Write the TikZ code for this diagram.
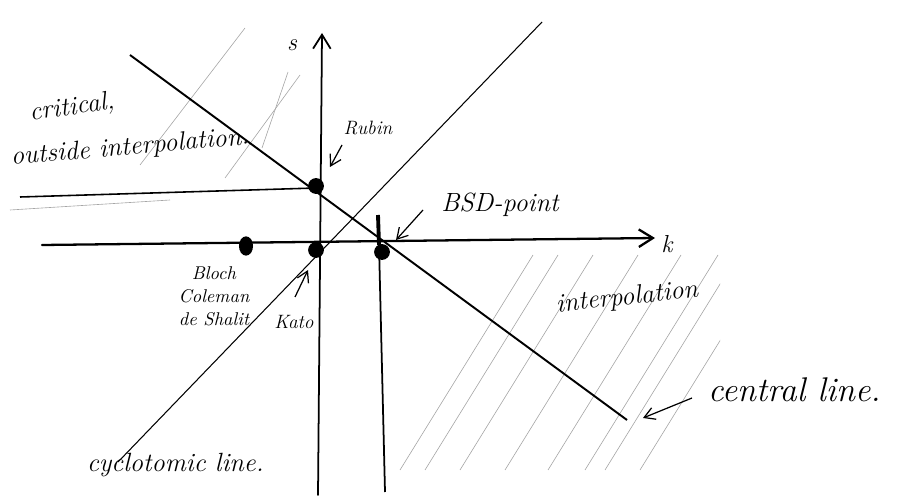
\documentclass[tikz,border=0pt]{standalone}
\usetikzlibrary{arrows.meta,shapes.geometric}
\begin{document}
\begin{tikzpicture}[x=0.02cm,y=-0.02cm,
  axis/.style={line width=1.3pt,line cap=round},
  thinln/.style={line width=0.6pt},
  hatch/.style={line width=0.35pt,gray!70},
  pt/.style={circle,fill=black,inner sep=0pt,minimum size=9pt},
  lab/.style={font=\itshape,inner sep=1pt},
  ptr/.style={-{Straight Barb[length=6pt,width=7pt]},line width=0.7pt}]
\useasboundingbox (0,0) rectangle (898,496);
% hatching bottom right
\begin{scope}
\clip (386,250) rectangle (720,490);
\foreach \x in {400,425,460,505,548,585,605,640}
  \draw[hatch] (\x,470) -- ++(133,-215);
\end{scope}
% hatching upper left
\draw[hatch] (140,165) -- (245,28);
\draw[hatch] (225,178) -- (300,75);
\draw[hatch] (262,148) -- (288,72);
\draw[hatch] (10,210) -- (170,200);
% coordinates
\coordinate (hL) at (42,245);
\coordinate (hR) at (655,238);
\coordinate (vB) at (318,495);
\coordinate (vT) at (322,33);
\coordinate (cA) at (130,55);
\coordinate (cB) at (627,420);
\coordinate (yA) at (118,462);
\coordinate (yB) at (542,22);
\coordinate (rL) at (20,197);
\coordinate (bT) at (378,215);
\coordinate (bB) at (385,492);
% axes
\draw[axis,-{Straight Barb[length=8pt,width=10pt]}] (hL) -- (hR);
\draw[axis,line width=1pt,-{Straight Barb[length=8pt,width=10pt]}] (vB) -- (vT);
% central line
\draw[line width=1.1pt] (cA) -- (cB);
% cyclotomic line
\draw[thinln] (yA) -- (yB);
% line from Robin to left
\draw[line width=0.9pt] (rL) -- (316,188);
% vertical line from BSD point downward
\draw[line width=2.2pt] (bT) -- (379,245);
\draw[line width=1pt] (379,245) -- (bB);
% points
\node[ellipse,fill=black,inner sep=0pt,minimum width=8pt,minimum height=11pt] (bcs) at (246,246) {};
\node[pt] (kato) at (316,250) {};
\node[pt] (rubin) at (316,186) {};
\node[pt] (bsd) at (382,252) {};
% labels
\node[lab,font=\itshape\fontsize{14}{16}\selectfont] (s) at (292,45) {s};
\node[lab,font=\itshape\fontsize{14}{16}\selectfont] (k) at (667,244) {k};
\node[lab,font=\itshape\fontsize{15}{18}\selectfont,rotate=8] (crit) at (72,108) {critical,};
\node[lab,font=\itshape\fontsize{15}{18}\selectfont,rotate=5] (outs) at (130,148) {outside interpolation.};
\node[lab,font=\itshape\fontsize{11}{13}\selectfont] (rub) at (368,128) {Rubin};
\draw[ptr] (342,145) -- (330,167);
\node[lab,font=\itshape\fontsize{15}{17}\selectfont] (bsdl) at (500,205) {BSD-point};
\draw[ptr] (423,210) -- (396,240);
\node[lab,align=center,font=\itshape\fontsize{10.5}{13}\selectfont] (bcsl) at (214,296) {Bloch\\Coleman\\de Shalit};
\node[lab,font=\itshape\fontsize{11}{13}\selectfont] (katol) at (294,322) {Kato};
\draw[ptr] (295,297) -- (308,270);
\node[lab,font=\itshape\fontsize{15}{17}\selectfont,rotate=6] (interp) at (627,298) {interpolation};
\node[lab,anchor=west,font=\itshape\fontsize{19.5}{22}\selectfont] (cent) at (706,390) {central line.};
\draw[ptr] (692,398) -- (643,418);
\node[lab,anchor=west,font=\itshape\fontsize{15}{17}\selectfont] (cyc) at (85,465) {cyclotomic line.};
\end{tikzpicture}
\end{document}
